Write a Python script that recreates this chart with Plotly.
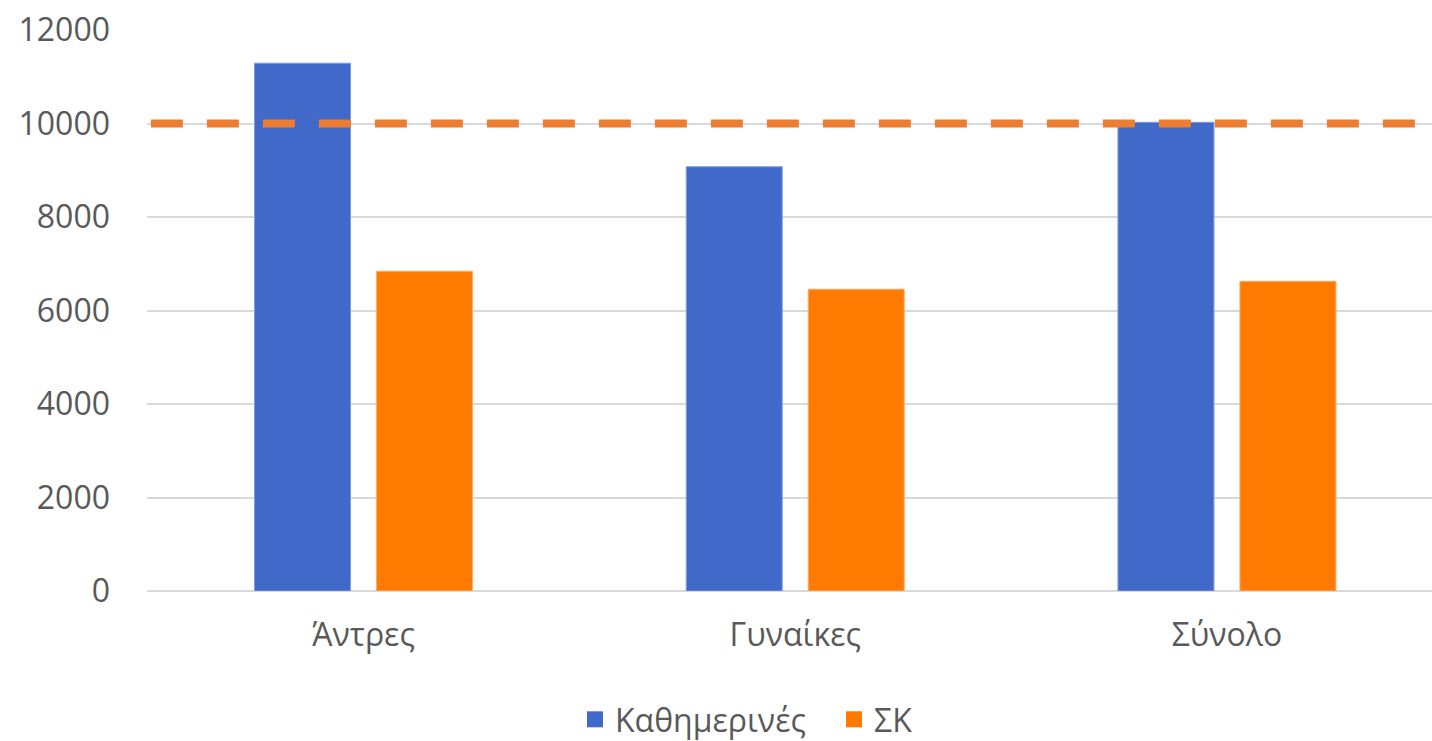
import plotly.graph_objects as go

# Category labels and series values
categories = ["Άντρες", "Γυναίκες", "Σύνολο"]
weekdays = [11290, 9075, 10025]
weekends = [6840, 6455, 6625]
reference_level = 10000
y_ticks = [0, 2000, 4000, 6000, 8000, 10000, 12000]
y_tick_labels = ["0", "2000", "4000", "6000", "8000", "10000", "12000"]
series_names = ["Καθημερινές", "ΣΚ"]

BLUE = "#4169C9"
ORANGE = "#FF7A00"
DASH_ORANGE = "#ED7D31"
GRID = "#D9D9D9"
TEXT = "#595959"
FONT = "Open Sans"

fig = go.Figure()
for name, values, color, edge in [
    (series_names[0], weekdays, BLUE, "#7E9BDB"),
    (series_names[1], weekends, ORANGE, "#FFAE66"),
]:
    fig.add_trace(go.Bar(
        name=name, x=categories, y=values, legendgroup=name, showlegend=False,
        marker=dict(color=color, line=dict(color=edge, width=1)),
    ))
    # legend entry with a larger square swatch
    fig.add_trace(go.Scatter(
        name=name, x=[None], y=[None], mode="markers", legendgroup=name,
        marker=dict(symbol="square", size=16, color=color),
        hoverinfo="skip",
    ))

# Dashed reference line at the threshold level, drawn above the bars
fig.add_shape(
    type="line", xref="paper", yref="y",
    x0=0.003, x1=1.0, y0=reference_level, y1=reference_level,
    line=dict(color=DASH_ORANGE, width=8, dash="32px,24px"),
    layer="above",
)

fig.update_layout(
    width=1432, height=741,
    margin=dict(l=147, r=0, t=30, b=150),
    paper_bgcolor="white", plot_bgcolor="white",
    barmode="group", bargap=0.435, bargroupgap=0.213,
    font=dict(family=FONT, color=TEXT, size=32),
    showlegend=True,
    legend=dict(
        orientation="h", xref="container", x=575 / 1432, xanchor="left",
        yref="container", y=0.029, yanchor="middle",
        font=dict(size=32, color=TEXT),
        entrywidth=214, entrywidthmode="pixels",
        traceorder="normal",
    ),
)
fig.update_xaxes(
    type="category", range=[-0.5015, 2.475],
    showgrid=False, showline=False, ticks="",
    tickfont=dict(size=32, color=TEXT), ticklabelstandoff=22,
)
fig.update_yaxes(
    range=[0, 12000], tickvals=y_ticks, ticktext=y_tick_labels,
    showgrid=True, gridcolor=GRID, gridwidth=2,
    zeroline=True, zerolinecolor=GRID, zerolinewidth=2,
    showline=False, ticks="",
    tickfont=dict(size=32, color=TEXT), ticklabelstandoff=36,
)

fig.write_html("out.html")
